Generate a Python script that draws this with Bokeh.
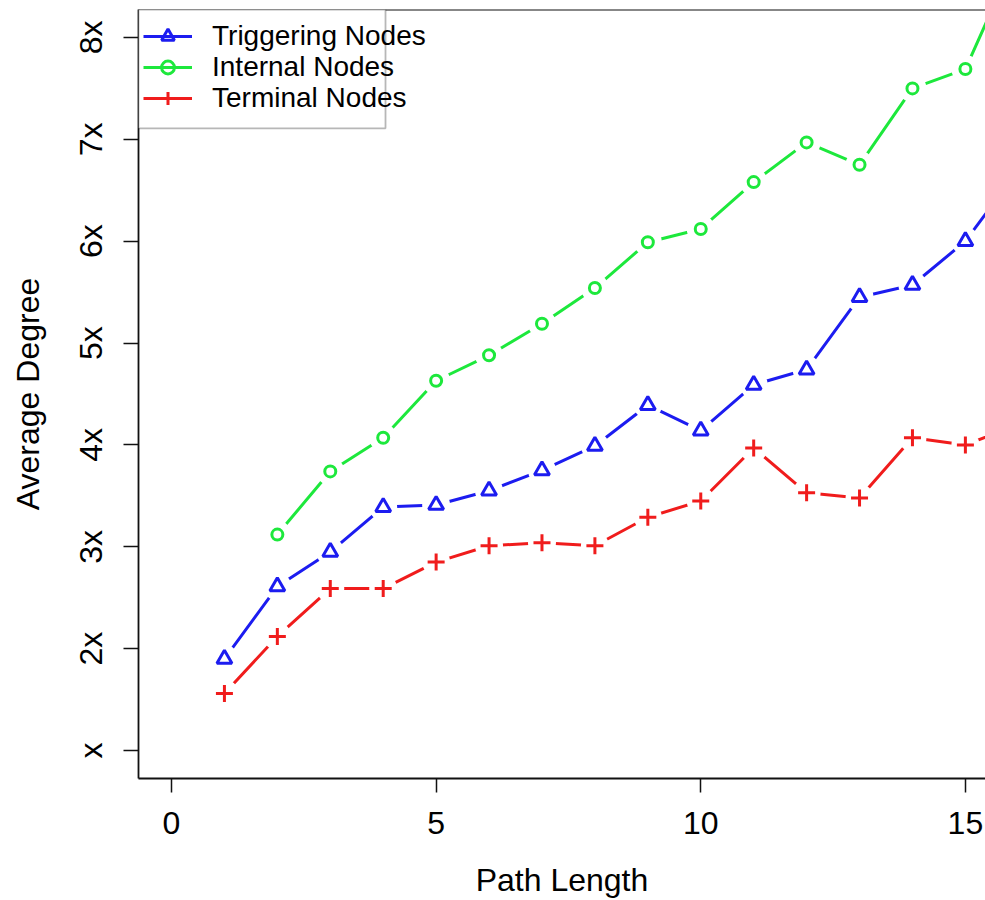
from bokeh.plotting import figure
from bokeh.models import FixedTicker, Range1d, Legend, LegendItem, BoxAnnotation, Span
from bokeh.embed import file_html
from bokeh.resources import INLINE

# ---- data ----
path_length = list(range(1, 17))
triggering = [1.90, 2.61, 2.95, 3.39, 3.41, 3.55, 3.75, 3.99, 4.39, 4.14, 4.59, 4.74, 5.45, 5.57, 6.00, 6.70]
internal_x = list(range(2, 17))
internal = [3.12, 3.74, 4.07, 4.63, 4.88, 5.19, 5.54, 5.99, 6.12, 6.58, 6.97, 6.75, 7.50, 7.69, 8.85]
terminal = [1.56, 2.12, 2.59, 2.59, 2.85, 3.01, 3.04, 3.01, 3.29, 3.45, 3.97, 3.53, 3.48, 4.07, 4.00, 4.20]

x_ticks = [0, 5, 10, 15]
y_ticks = [1, 2, 3, 4, 5, 6, 7, 8]
y_tick_labels = ["x", "2x", "3x", "4x", "5x", "6x", "7x", "8x"]
series_names = ["Triggering Nodes", "Internal Nodes", "Terminal Nodes"]

# ---- layout ----
W, H = 985, 900
LEFT, TOP, BOTTOM = 138, 9, 121
FONT = "Liberation Sans"
BLUE, GREEN, RED = "#1c1cf0", "#1de83c", "#f01c1c"

x0, x1 = -0.6235, 15.38
y0, y1 = 0.7255, 8.2745

p = figure(width=W, height=H, output_backend="svg", toolbar_location=None,
           x_range=Range1d(x0, x1), y_range=Range1d(y0, y1),
           min_border_left=LEFT, min_border_top=TOP, min_border_bottom=BOTTOM,
           min_border_right=0)
p.grid.visible = False
p.outline_line_color = None
p.background_fill_color = "white"

AX = "#111111"
for ax in (p.xaxis[0], p.yaxis[0]):
    ax.axis_line_color = AX
    ax.axis_line_width = 1.8
    ax.major_tick_line_color = AX
    ax.major_tick_line_width = 1.5
    ax.major_tick_in = 0
    ax.minor_tick_line_color = None
    ax.major_label_text_font = FONT
    ax.major_label_text_font_size = "32px"
    ax.major_label_text_color = "black"
    ax.axis_label_text_font = FONT
    ax.axis_label_text_font_size = "32px"
    ax.axis_label_text_font_style = "normal"
    ax.axis_label_text_color = "black"

p.xaxis.ticker = FixedTicker(ticks=x_ticks)
p.xaxis.major_tick_out = 14
p.xaxis.major_label_standoff = 19
p.xaxis.axis_label = "Path Length"
p.xaxis.axis_label_standoff = 25

p.yaxis.ticker = FixedTicker(ticks=y_ticks)
p.yaxis.major_label_overrides = {v: s for v, s in zip(y_ticks, y_tick_labels)}
p.yaxis.major_label_orientation = "vertical"
p.yaxis.major_tick_out = 15
p.yaxis.major_label_standoff = 14
p.yaxis.axis_label = "Average Degree"
p.yaxis.axis_label_standoff = 25

# top border of the box
p.add_layout(Span(location=y1, dimension="width", line_color=AX, line_width=1.8))

LW = 3.0
# lines
l_trig = p.line(path_length, triggering, line_color=BLUE, line_width=LW)
l_int = p.line(internal_x, internal, line_color=GREEN, line_width=LW)
l_term = p.line(path_length, terminal, line_color=RED, line_width=LW)

# white masks to create the gaps of R's type="b"
for xs, ys in ((path_length, triggering), (internal_x, internal), (path_length, terminal)):
    p.scatter(xs, ys, marker="circle", size=28, fill_color="white", line_color=None)

m_trig = p.scatter(path_length, triggering, marker="triangle", size=15, fill_color=None,
                   line_color=BLUE, line_width=3.0)
m_int = p.scatter(internal_x, internal, marker="circle", size=11, fill_color=None,
                  line_color=GREEN, line_width=3.0)
m_term = p.scatter(path_length, terminal, marker="cross", size=17, line_color=RED, line_width=3.0)

# legend box (as in R's legend, text overflows the box)
ppx = (W - LEFT) / (x1 - x0)
ppy = (H - TOP - BOTTOM) / (y1 - y0)
box = BoxAnnotation(left=x0, right=x0 + 247 / ppx, top=y1, bottom=y1 - 119 / ppy,
                    fill_color="white", fill_alpha=1.0, line_color=AX, line_width=1.8,
                    level="annotation")
p.add_layout(box)

# one legend per row so that the rows sit about 30 px apart as in the reference
ROW_H = 32
frame_bottom = H - BOTTOM
for name, rends, cy in zip(series_names,
                           ([l_trig, m_trig], [l_int, m_int], [l_term, m_term]),
                           (37, 68, 99)):
    lg = Legend(items=[LegendItem(label=name, renderers=rends)],
                location=(5, frame_bottom - cy - ROW_H / 2),
                orientation="vertical", padding=0, spacing=0, margin=0,
                glyph_width=49, glyph_height=ROW_H, label_height=ROW_H, label_standoff=20,
                label_text_font=FONT, label_text_font_size="28px", label_text_color="black",
                border_line_color=None, background_fill_alpha=0.0)
    p.add_layout(lg)

open("out.html", "w").write(file_html(p, INLINE))
